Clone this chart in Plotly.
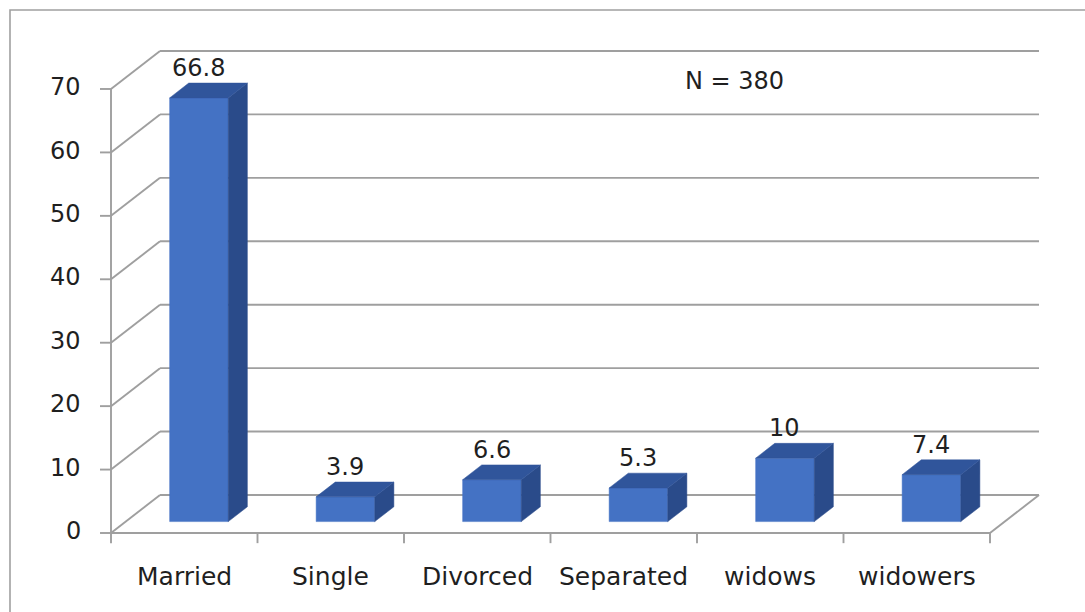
import plotly.graph_objects as go

# ---- data ----
categories = ["Married", "Single", "Divorced", "Separated", "widows", "widowers"]
values = [66.8, 3.9, 6.6, 5.3, 10, 7.4]
value_labels = ["66.8", "3.9", "6.6", "5.3", "10", "7.4"]
y_ticks = [0, 10, 20, 30, 40, 50, 60, 70]
note_text = "N = 380"

# ---- style / projection constants ----
W, H = 1085, 612
PX_X = 146.5          # px per category slot
PX_Y = 6.343          # px per value unit
X0_PX, Y0_PX = 111, 533
DX = 49 / PX_X        # depth offset in x units
DY = 38 / PX_Y        # depth offset in y units
F1, F2 = 0.30, 0.69   # bar front / back depth fraction
HALF = 0.20           # bar half width in slot units
YMAX = 70
GRID = "#9f9f9f"
FRONT, TOP, SIDE = "#4472C4", "#30559b", "#2a4b8a"
FONT = "DejaVu Sans"
TXT = "#1f1f1f"

xr = [-X0_PX / PX_X, -X0_PX / PX_X + W / PX_X]
yr = [-(H - Y0_PX) / PX_Y, Y0_PX / PX_Y]

fig = go.Figure()
shapes = []

def line(x0, y0, x1, y1, w=1.9):
    shapes.append(dict(type="line", xref="x", yref="y", x0=x0, y0=y0, x1=x1, y1=y1,
                       line=dict(color=GRID, width=w), layer="below"))

n = len(categories)
for v in y_ticks:
    line(DX, v + DY, n + DX, v + DY)      # back wall gridline
    line(0, v, DX, v + DY)                # left wall diagonal
    line(-0.075, v, 0, v)                 # y tick
line(0, 0, 0, YMAX)                       # front y axis
line(0, 0, n, 0)                          # front floor edge
line(n, 0, n + DX, DY)                    # right floor edge
for i in range(n + 1):
    line(i, 0, i, -1.6)                   # category ticks

# border
shapes.append(dict(type="rect", xref="paper", yref="paper",
                   x0=10 / W, x1=1.02, y0=-0.02, y1=1 - 10 / H,
                   line=dict(color="#a0a0a0", width=1.6), layer="below"))

def face(xs, ys, color):
    fig.add_trace(go.Scatter(x=xs + [xs[0]], y=ys + [ys[0]], mode="lines", fill="toself",
                             fillcolor=color, line=dict(width=0.5, color=color),
                             hoverinfo="skip", showlegend=False))

annotations = []
for i, (c, v, lab) in enumerate(zip(categories, values, value_labels)):
    cx = i + 0.5
    xl, xr_ = cx - HALF, cx + HALF
    fx, fy = F1 * DX, F1 * DY
    bx, by = F2 * DX, F2 * DY
    # front
    face([xl + fx, xr_ + fx, xr_ + fx, xl + fx], [fy, fy, v + fy, v + fy], FRONT)
    # side
    face([xr_ + fx, xr_ + bx, xr_ + bx, xr_ + fx], [fy, by, v + by, v + fy], SIDE)
    # top
    face([xl + fx, xr_ + fx, xr_ + bx, xl + bx], [v + fy, v + fy, v + by, v + by], TOP)
    annotations.append(dict(x=cx + fx, y=v + by, text=lab, showarrow=False,
                            xanchor="center", yanchor="bottom", yshift=-1,
                            font=dict(family=FONT, size=24, color=TXT)))
    annotations.append(dict(x=cx, y=-6.8, text=c, showarrow=False,
                            xanchor="center", yanchor="middle",
                            font=dict(family=FONT, size=25, color=TXT)))

for v in y_ticks:
    annotations.append(dict(x=-0.19, y=v + 0.3, text=str(v), showarrow=False,
                            xanchor="right", yanchor="middle",
                            font=dict(family=FONT, size=24, color=TXT)))

annotations.append(dict(x=(734 - X0_PX) / PX_X, y=(Y0_PX - 81) / PX_Y, text=note_text,
                        showarrow=False, xanchor="center", yanchor="middle",
                        font=dict(family=FONT, size=24, color=TXT)))

fig.update_layout(
    width=W, height=H, margin=dict(l=0, r=0, t=0, b=0),
    paper_bgcolor="white", plot_bgcolor="white",
    xaxis=dict(range=xr, visible=False, fixedrange=True),
    yaxis=dict(range=yr, visible=False, fixedrange=True),
    shapes=shapes, annotations=annotations, showlegend=False,
)
fig.write_html("out.html", config={"displayModeBar": False})
